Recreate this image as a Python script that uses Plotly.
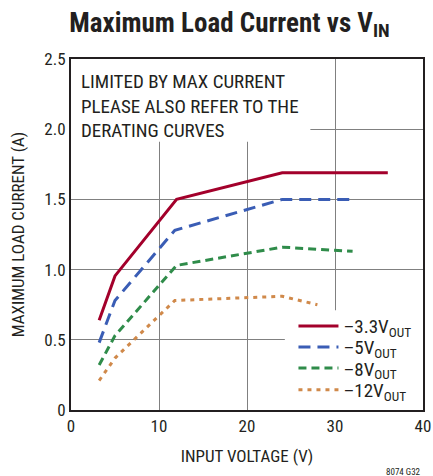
import plotly.graph_objects as go

names = ["–3.3V<sub>OUT</sub>", "–5V<sub>OUT</sub>", "–8V<sub>OUT</sub>", "–12V<sub>OUT</sub>"]
vin_33 = [3.2, 5, 12, 24, 36]
iout_33 = [0.64, 0.955, 1.5, 1.69, 1.69]
vin_5 = [3.2, 5, 11.8, 24, 32]
iout_5 = [0.48, 0.78, 1.28, 1.5, 1.5]
vin_8 = [3.2, 5, 12, 24, 32]
iout_8 = [0.32, 0.53, 1.03, 1.16, 1.13]
vin_12 = [3.2, 5, 11.8, 24, 28]
iout_12 = [0.21, 0.37, 0.78, 0.81, 0.75]

y_label_alias = {"0.0": "0"}

colors = ["#A3002B", "#3A5DB5", "#2F8C4A", "#D0894A"]
dashes = ["solid", "12px,7px", "8px,5px", "4px,5px"]

FONT = "Liberation Sans Narrow, Roboto Condensed, Arial Narrow, Liberation Sans, sans-serif"

legend_ids = ["legend", "legend2", "legend3", "legend4"]
legend_y = [0.239, 0.179, 0.119, 0.057]

fig = go.Figure()
for xs, ys, n, c, d, lg in zip([vin_33, vin_5, vin_8, vin_12], [iout_33, iout_5, iout_8, iout_12],
                               names, colors, dashes, legend_ids):
    fig.add_trace(go.Scatter(x=xs, y=ys, mode="lines", name=n, legend=lg,
                             line=dict(color=c, width=3, dash=d)))

# white areas behind annotation text and legend (cover gridlines)
fig.add_shape(type="rect", xref="x", yref="y", x0=0, x1=27.2, y0=1.91, y1=2.5,
              fillcolor="white", line_width=0, layer="between")
fig.add_shape(type="rect", xref="x", yref="y", x0=24.3, x1=40, y0=0, y1=0.71,
              fillcolor="white", line_width=0, layer="between")

fig.add_annotation(x=0.022, y=0.975, xref="paper", yref="paper", xanchor="left", yanchor="top",
                   align="left", showarrow=False,
                   text="LIMITED BY MAX CURRENT<br>PLEASE ALSO REFER TO THE<br>DERATING CURVES",
                   font=dict(family=FONT, size=19, color="#231F20"))
fig.add_annotation(x=1.0, y=-0.178, xref="paper", yref="paper", xanchor="right", yanchor="middle",
                   showarrow=False, text="8074 G32", font=dict(family=FONT, size=9, color="#231F20"))

legend_common = dict(x=0.632, xanchor="left", yanchor="middle", bgcolor="rgba(0,0,0,0)",
                     font=dict(family=FONT, size=19, color="#231F20"), itemwidth=40)

fig.update_layout(
    width=433, height=476,
    margin=dict(l=71, r=10, t=59, b=66, autoexpand=False),
    paper_bgcolor="white", plot_bgcolor="white",
    title=dict(text="<b>Maximum Load Current vs V<sub>IN</sub></b>", x=0.53, xanchor="center",
               y=0.953, yanchor="middle", font=dict(family=FONT, size=27, color="#231F20")),
    font=dict(family=FONT, size=17, color="#231F20"),
    showlegend=True,
    legend=dict(y=legend_y[0], **legend_common),
    legend2=dict(y=legend_y[1], **legend_common),
    legend3=dict(y=legend_y[2], **legend_common),
    legend4=dict(y=legend_y[3], **legend_common),
)
fig.update_xaxes(range=[0, 40], tick0=0, dtick=10,
                 showgrid=True, gridcolor="#808080", gridwidth=1,
                 showline=True, linecolor="#231F20", linewidth=2, mirror=True, ticks="",
                 zeroline=False, automargin=False, title=dict(text="INPUT VOLTAGE (V)", font=dict(size=17)),
                 tickfont=dict(size=17))
fig.update_yaxes(range=[0, 2.5], tick0=0, dtick=0.5, tickformat=".1f", labelalias=y_label_alias,
                 showgrid=True, gridcolor="#808080", gridwidth=1,
                 showline=True, linecolor="#231F20", linewidth=2, mirror=True, ticks="",
                 zeroline=False, automargin=False, title=dict(text="MAXIMUM LOAD CURRENT (A)", font=dict(size=17)),
                 tickfont=dict(size=17))

fig.write_html("out.html", config={"displayModeBar": False},
               post_script="document.body.style.margin='0px';")
